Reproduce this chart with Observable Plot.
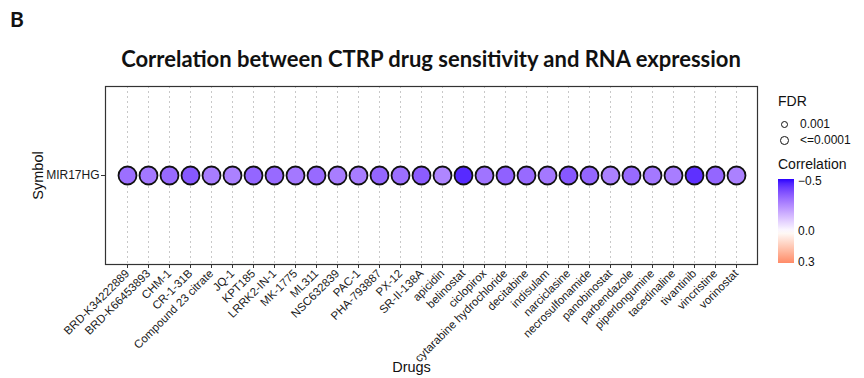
<!DOCTYPE html>
<html>
<head>
<meta charset="utf-8">
<script src="https://cdn.jsdelivr.net/npm/d3@7"></script>
<script src="https://cdn.jsdelivr.net/npm/@observablehq/plot@0.6"></script>
<style>
  html, body { margin: 0; padding: 0; background: #fff; }
  #page { position: relative; width: 864px; height: 378px; overflow: hidden; font-family: "Liberation Sans", Arial, sans-serif; color: #111; }
  .abs { position: absolute; white-space: nowrap; }
  #panel { position: absolute; left: 0; top: 78px; }
  #panel svg text { font-family: "Liberation Sans", Arial, sans-serif; }
</style>
</head>
<body>
<div id="page">
  <div class="abs" style="left:10px;top:6px;font-family:Lato,sans-serif;font-weight:700;font-size:21px;">B</div>
  <div class="abs" id="title" style="left:0;width:862px;text-align:center;top:45px;font-family:Lato,sans-serif;font-weight:700;font-size:22px;">Correlation between CTRP drug sensitivity and RNA expression</div>
  <div id="panel"></div>
  <div id="legend"></div>
</div>
<script>
const drugs = ["BRD-K34222889","BRD-K66453893","CHM-1","CR-1-31B","Compound 23 citrate","JQ-1","KPT185","LRRK2-IN-1","MK-1775","ML311","NSC632839","PAC-1","PHA-793887","PX-12","SR-II-138A","apicidin","belinostat","ciclopirox","cytarabine hydrochloride","decitabine","indisulam","narciclasine","necrosulfonamide","panobinostat","parbendazole","piperlongumine","tacedinaline","tivantinib","vincristine","vorinostat"];
const correlation = [-0.31,-0.29,-0.32,-0.36,-0.28,-0.27,-0.33,-0.32,-0.29,-0.32,-0.28,-0.28,-0.33,-0.31,-0.35,-0.26,-0.45,-0.30,-0.34,-0.32,-0.29,-0.36,-0.33,-0.27,-0.32,-0.29,-0.28,-0.44,-0.33,-0.27];
const fdr = ["<=0.0001","<=0.0001","<=0.0001","<=0.0001","<=0.0001","<=0.0001","<=0.0001","<=0.0001","<=0.0001","<=0.0001","<=0.0001","<=0.0001","<=0.0001","<=0.0001","<=0.0001","<=0.0001","<=0.0001","<=0.0001","<=0.0001","<=0.0001","<=0.0001","<=0.0001","<=0.0001","<=0.0001","<=0.0001","<=0.0001","<=0.0001","<=0.0001","<=0.0001","<=0.0001"];
const symbol = "MIR17HG";
const fdrLevels = ["0.001","<=0.0001"];
const legendTicks = [-0.5, 0.0, 0.3];

const rows = drugs.map((d, i) => ({drug: d, symbol, cor: correlation[i], fdr: fdr[i]}));

const colorOpts = {type: "linear", domain: [-0.5, 0, 0.5], range: ["#2a00ff", "#ffffff", "#ff0000"], interpolate: "lab"};

const plot = Plot.plot({
  width: 864,
  height: 300,
  marginLeft: 105,
  marginRight: 107,
  marginTop: 8,
  marginBottom: 114,
  style: {fontFamily: "Liberation Sans", fontSize: "11.5px", color: "#1a1a1a", background: "transparent"},
  x: {type: "point", domain: drugs, padding: 0.6, label: null},
  y: {type: "point", domain: [symbol], label: null},
  color: colorOpts,
  marks: [
    Plot.gridX(drugs, {stroke: "#c8c8c8", strokeOpacity: 1, strokeDasharray: "2,3", strokeWidth: 1}),
    Plot.frame({stroke: "#333", strokeWidth: 1.2}),
    Plot.axisX({tickRotate: -45, tickSize: 4, tickPadding: 3, fontSize: 11.5, label: null, stroke: "#333", fill: "#1a1a1a"}),
    Plot.axisY({tickSize: 4, tickPadding: 2, fontSize: 12, label: null, stroke: "#333", fill: "#1a1a1a"}),
    Plot.dot(rows, {x: "drug", y: "symbol", r: 9, fill: "cor", stroke: "#111", strokeWidth: 1.8}),
    Plot.text(["Drugs"], {frameAnchor: "bottom", dy: 107, dx: -20, text: d => d, fontSize: 14.5, fill: "#111"}),
    Plot.text(["Symbol"], {frameAnchor: "left", dx: -67, rotate: -90, textAnchor: "middle", text: d => d, fontSize: 14.5, fill: "#111"})
  ]
});
document.getElementById("panel").appendChild(plot);

// Legend
const cs = Plot.scale({color: colorOpts});
const lg = document.getElementById("legend");
let html = "";
html += `<div class="abs" style="left:778px;top:93px;font-size:14px;">FDR</div>`;
const circ = [ {y: 125, r: 4.4}, {y: 141, r: 4.9} ];
fdrLevels.forEach((lv, i) => {
  const c = circ[i];
  html += `<div class="abs" style="left:${785 - c.r}px;top:${c.y - c.r}px;width:${2*c.r - 3}px;height:${2*c.r - 3}px;border:1.8px solid #111;border-radius:50%;"></div>`;
  html += `<div class="abs" style="left:800px;top:${c.y - 8}px;font-size:12px;">${lv.replace("<","&lt;")}</div>`;
});
html += `<div class="abs" style="left:778px;top:156px;font-size:14px;">Correlation</div>`;
const barTop = 179, barBottom = 263, lo = -0.5, hi = 0.3;
const yOf = v => barTop + (v - lo) / (hi - lo) * (barBottom - barTop);
const stops = d3.range(0, 1.0001, 0.05).map(t => `${cs.apply(lo + t * (hi - lo))} ${(t*100).toFixed(1)}%`).join(",");
html += `<div class="abs" style="left:778px;top:${barTop}px;width:16px;height:${barBottom-barTop}px;background:linear-gradient(to bottom, ${stops});"></div>`;
legendTicks.forEach(v => {
  const lab = v === 0 ? "0.0" : (v < 0 ? "\u2212" + Math.abs(v).toFixed(1) : v.toFixed(1));
  const off = v === -0.5 ? 5 : 8;
  html += `<div class="abs" style="left:798px;top:${yOf(v) - off}px;font-size:12px;">${lab}</div>`;
});
lg.innerHTML = html;
</script>
</body>
</html>
